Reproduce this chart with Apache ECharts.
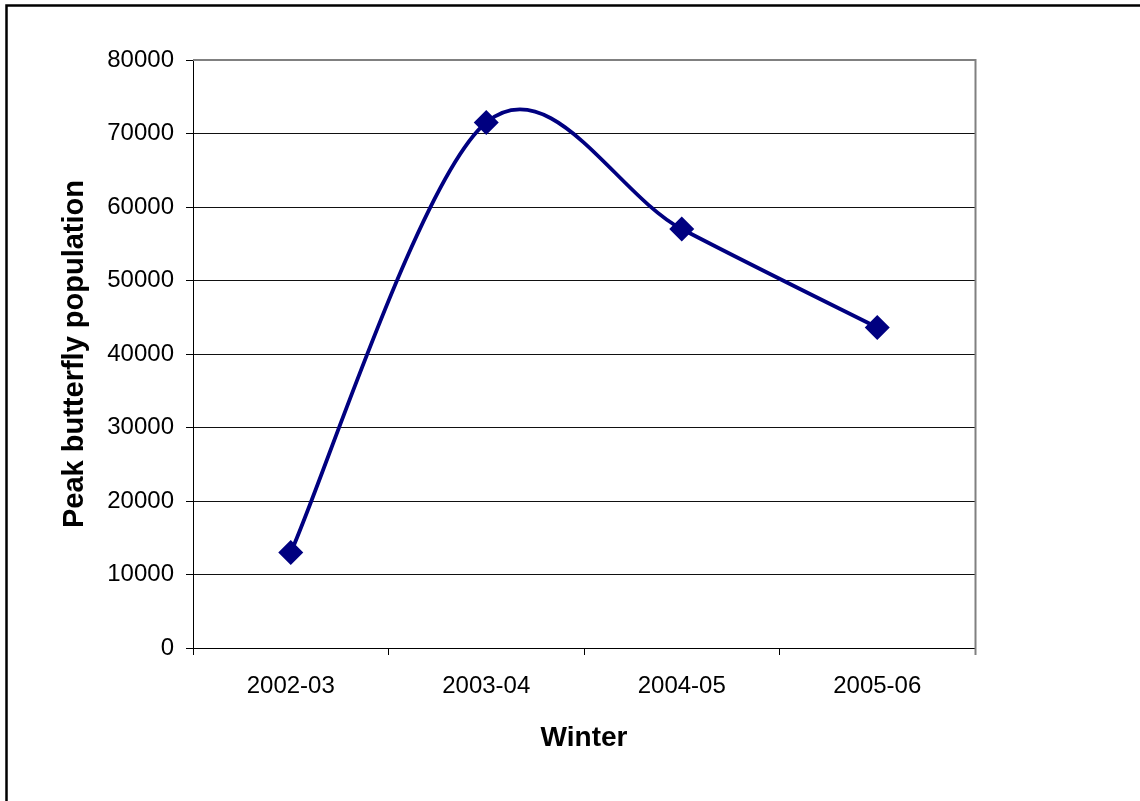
<!DOCTYPE html>
<html>
<head>
<meta charset="utf-8">
<script src="https://cdn.jsdelivr.net/npm/echarts@6/dist/echarts.min.js"></script>
<style>html,body{margin:0;padding:0;background:#fff;}#c{width:1140px;height:801px;}</style>
</head>
<body>
<div id="c"></div>
<script>
const categories = ['2002-03', '2003-04', '2004-05', '2005-06'];
const population = [13000, 71500, 57000, 43600];
const yTicks = [0, 10000, 20000, 30000, 40000, 50000, 60000, 70000, 80000];

const chart = echarts.init(document.getElementById('c'), null, {renderer: 'canvas'});
const font = 'Liberation Sans, Arial, sans-serif';
const lineColor = '#000080';

// Excel-style smoothed line: Catmull-Rom (1/6 tangent) Bezier through data points, positioned via api.coord
function renderSmooth(params, api) {
  const i = params.dataIndex;
  if (i >= population.length - 1) return null;
  const P = population.map((v, k) => api.coord([k, v]));
  const p0 = P[Math.max(i - 1, 0)], p1 = P[i], p2 = P[i + 1], p3 = P[Math.min(i + 2, P.length - 1)];
  const cp1 = [p1[0] + (p2[0] - p0[0]) / 6, p1[1] + (p2[1] - p0[1]) / 6];
  const cp2 = [p2[0] - (p3[0] - p1[0]) / 6, p2[1] - (p3[1] - p1[1]) / 6];
  return {
    type: 'bezierCurve',
    shape: {x1: p1[0], y1: p1[1], cpx1: cp1[0], cpy1: cp1[1], cpx2: cp2[0], cpy2: cp2[1], x2: p2[0], y2: p2[1]},
    style: {stroke: lineColor, lineWidth: 3.8, fill: null, lineCap: 'round', lineJoin: 'round'}
  };
}

chart.setOption({
  animation: false,
  backgroundColor: '#fff',
  graphic: [{
    type: 'rect', silent: true, z: 100,
    shape: {x: 6.5, y: 5.5, width: 1200, height: 900},
    style: {fill: 'none', stroke: '#000', lineWidth: 2.5}
  }, {
    type: 'line', silent: true, z: 100,
    shape: {x1: 193, y1: 60, x2: 976, y2: 60},
    style: {stroke: '#808080', lineWidth: 2}
  }, {
    type: 'line', silent: true, z: 100,
    shape: {x1: 975.5, y1: 59, x2: 975.5, y2: 655},
    style: {stroke: '#808080', lineWidth: 2}
  }],
  grid: {left: 193, top: 60, right: 165, bottom: 153, containLabel: false},
  xAxis: {
    type: 'category', data: categories, boundaryGap: true,
    name: 'Winter', nameLocation: 'middle', nameGap: 76,
    nameTextStyle: {fontFamily: font, fontSize: 28, fontWeight: 'bold', color: '#000'},
    axisLine: {lineStyle: {color: '#000', width: 1}},
    axisTick: {show: true, length: 7, lineStyle: {color: '#000'}},
    axisLabel: {fontFamily: font, fontSize: 24, color: '#000', margin: 26},
    splitLine: {show: false}
  },
  yAxis: {
    type: 'value', min: yTicks[0], max: yTicks[yTicks.length - 1], interval: yTicks[1] - yTicks[0],
    name: 'Peak butterfly population', nameLocation: 'middle', nameGap: 104,
    nameTextStyle: {fontFamily: font, fontSize: 29, fontWeight: 'bold', color: '#000'},
    axisLine: {show: true, lineStyle: {color: '#000', width: 1}},
    axisTick: {show: true, length: 7, lineStyle: {color: '#000'}},
    axisLabel: {fontFamily: font, fontSize: 24, color: '#000', margin: 19, formatter: v => String(v)},
    splitLine: {show: true, lineStyle: {color: '#111', width: 1}}
  },
  series: [{
    type: 'custom', data: population, renderItem: renderSmooth, z: 3, silent: true, clip: false
  }, {
    type: 'scatter', data: population, symbol: 'diamond', symbolSize: 25, z: 4,
    itemStyle: {color: lineColor, opacity: 1}
  }]
});
</script>
</body>
</html>
